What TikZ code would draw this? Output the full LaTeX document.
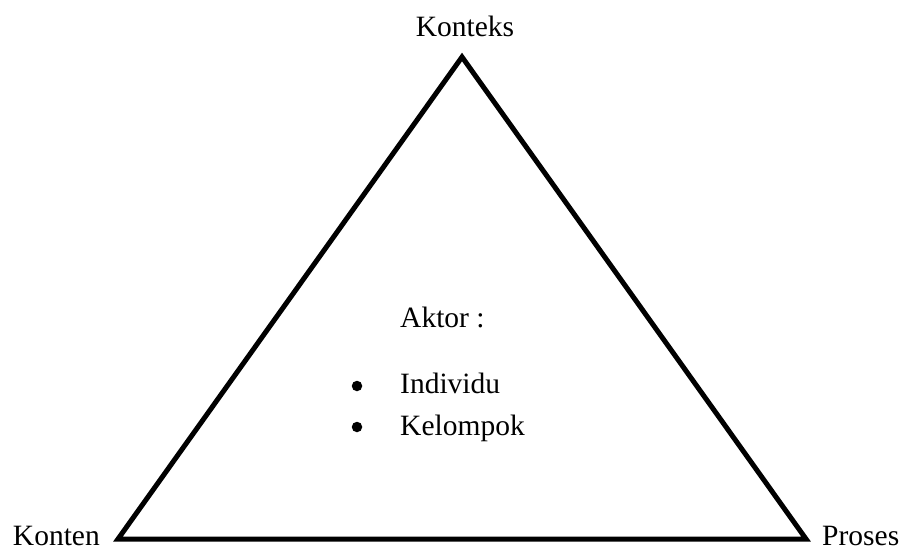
\documentclass[tikz,border=0pt]{standalone}
\usepackage{fontspec}
\setmainfont{Liberation Serif}
\tikzset{
	label/.style={inner sep=0pt, font=\fontsize{29.5}{35}\selectfont},
	dot/.style={circle, fill=black, inner sep=0pt, minimum size=10.5pt},
	edge/.style={line width=5pt, line join=miter}
}

\begin{document}
\begin{tikzpicture}[x=1pt, y=-1pt]
		%%%%% START %%%%%
		\useasboundingbox (0, 0) rectangle (904, 554);
		
		\coordinate (top) at (462, 57);
		\coordinate (left) at (118, 539);
		\coordinate (right) at (806, 539);
		\draw[edge] (top) -- (right) -- (left) -- cycle;
		
		\node[label, anchor=base] (konteks) at (465, 36) {Konteks};
		\node[label, anchor=base east] (konten) at (100, 545) {Konten};
		\node[label, anchor=base west] (proses) at (822, 545) {Proses};
		
		\node[label, anchor=base west] (aktor) at (400, 327) {Aktor :};
		\node[dot] (bul1) at (357, 386) {};
		\node[label, anchor=base west] (individu) at (400, 393) {Individu};
		\node[dot] (bul2) at (357, 427) {};
		\node[label, anchor=base west] (kelompok) at (400, 435) {Kelompok};
		%%%%% END %%%%%
	\end{tikzpicture}
\end{document}
